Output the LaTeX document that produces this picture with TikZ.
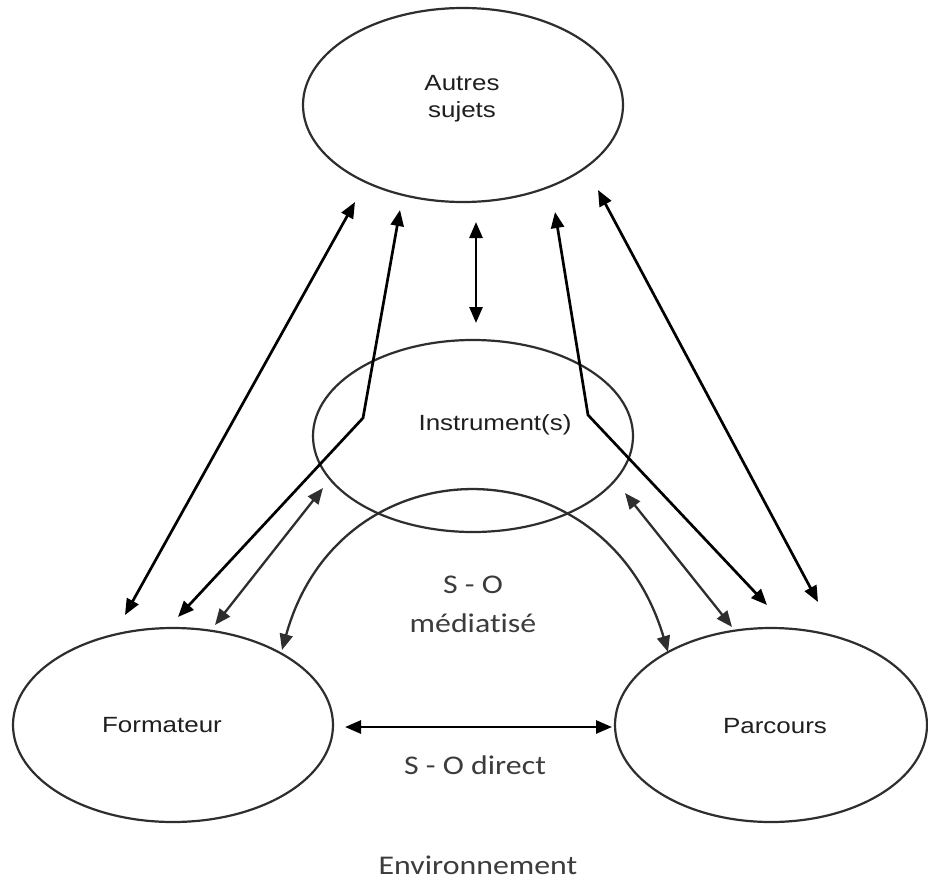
\documentclass[tikz,border=0pt]{standalone}
\usepackage{fontspec}
\setmainfont{Liberation Sans}
\newfontfamily\humfont[Ligatures=NoCommon]{Carlito}
\usetikzlibrary{shapes.geometric,arrows.meta}
\definecolor{ell}{HTML}{2E2E2E}
\definecolor{sol}{HTML}{3C3C3C}
\newcommand\hstretch[1]{\scalebox{1.18}[1]{#1}}
\begin{document}
\begin{tikzpicture}[x=1pt,y=-1pt,
  ellnode/.style={draw=ell, line width=2.2pt, ellipse, inner sep=0pt},
  ltext/.style={font=\fontsize{22}{26}\selectfont, text=black!88, anchor=base, inner sep=0pt},
  stext/.style={font=\humfont\fontsize{27}{32}\selectfont, text=sol, anchor=base, inner sep=0pt},
  link/.style={line width=2.7pt, {Triangle[length=16pt,width=13pt]}-{Triangle[length=16pt,width=13pt]}},
  slink/.style={draw=ell, line width=2.3pt, {Triangle[length=16pt,width=13pt]}-{Triangle[length=16pt,width=13pt]}}]
\useasboundingbox (0,0) rectangle (928,881);
\fill[white] (0,0) rectangle (928,881);

% ellipses
\node[ellnode, minimum width=320pt, minimum height=194pt] (autres) at (463,105) {};
\node[ellnode, minimum width=320pt, minimum height=192pt] (instr) at (473,436) {};
\node[ellnode, minimum width=320pt, minimum height=194pt] (form) at (173,725) {};
\node[ellnode, minimum width=312pt, minimum height=194pt] (parc) at (771,725) {};

% ellipse labels
\node[ltext] (autresT1) at (462,90) {\hstretch{Autres}};
\node[ltext] (autresT2) at (462,117) {\hstretch{sujets}};
\node[ltext] (instrT) at (495,430) {\hstretch{Instrument(s)}};
\node[ltext] (formT) at (162,732) {\hstretch{Formateur}};
\node[ltext] (parcT) at (775,733) {\hstretch{Parcours}};

% other labels
\node[stext] (so1) at (473,593) {\hstretch{S - O}};
\node[stext] (so2) at (473,632) {\hstretch{médiatisé}};
\node[stext] (sod) at (475,774) {\hstretch{S - O direct}};
\node[stext] (env) at (478,874) {\hstretch{Environnement}};

% connector end points
\coordinate (va) at (476,222);
\coordinate (vb) at (476,323);
\coordinate (L1a) at (355,202);
\coordinate (L1b) at (125,615);
\coordinate (L2a) at (400,210);
\coordinate (L2k) at (363,418);
\coordinate (L2b) at (178,617);
\coordinate (L3a) at (323,488);
\coordinate (L3b) at (215,625);
\coordinate (R1a) at (555,212);
\coordinate (R1k) at (588,415);
\coordinate (R1b) at (767,605);
\coordinate (R2a) at (598,190);
\coordinate (R2b) at (818,602);
\coordinate (R3a) at (625,493);
\coordinate (R3b) at (732,627);
\coordinate (Ma) at (282,650);
\coordinate (Mb) at (668,652);
\coordinate (Ha) at (345,727);
\coordinate (Hb) at (612,727);

% connectors
\draw[link] (va) -- (vb);
\draw[link] (L1a) -- (L1b);
\draw[link] (L2a) -- (L2k) -- (L2b);
\draw[slink] (L3a) -- (L3b);
\draw[link] (R1a) -- (R1k) -- (R1b);
\draw[link] (R2a) -- (R2b);
\draw[slink] (R3a) -- (R3b);
\draw[slink] (Ma) .. controls (340,440) and (605,440) .. (Mb);
\draw[link] (Ha) -- (Hb);
\end{tikzpicture}
\end{document}
